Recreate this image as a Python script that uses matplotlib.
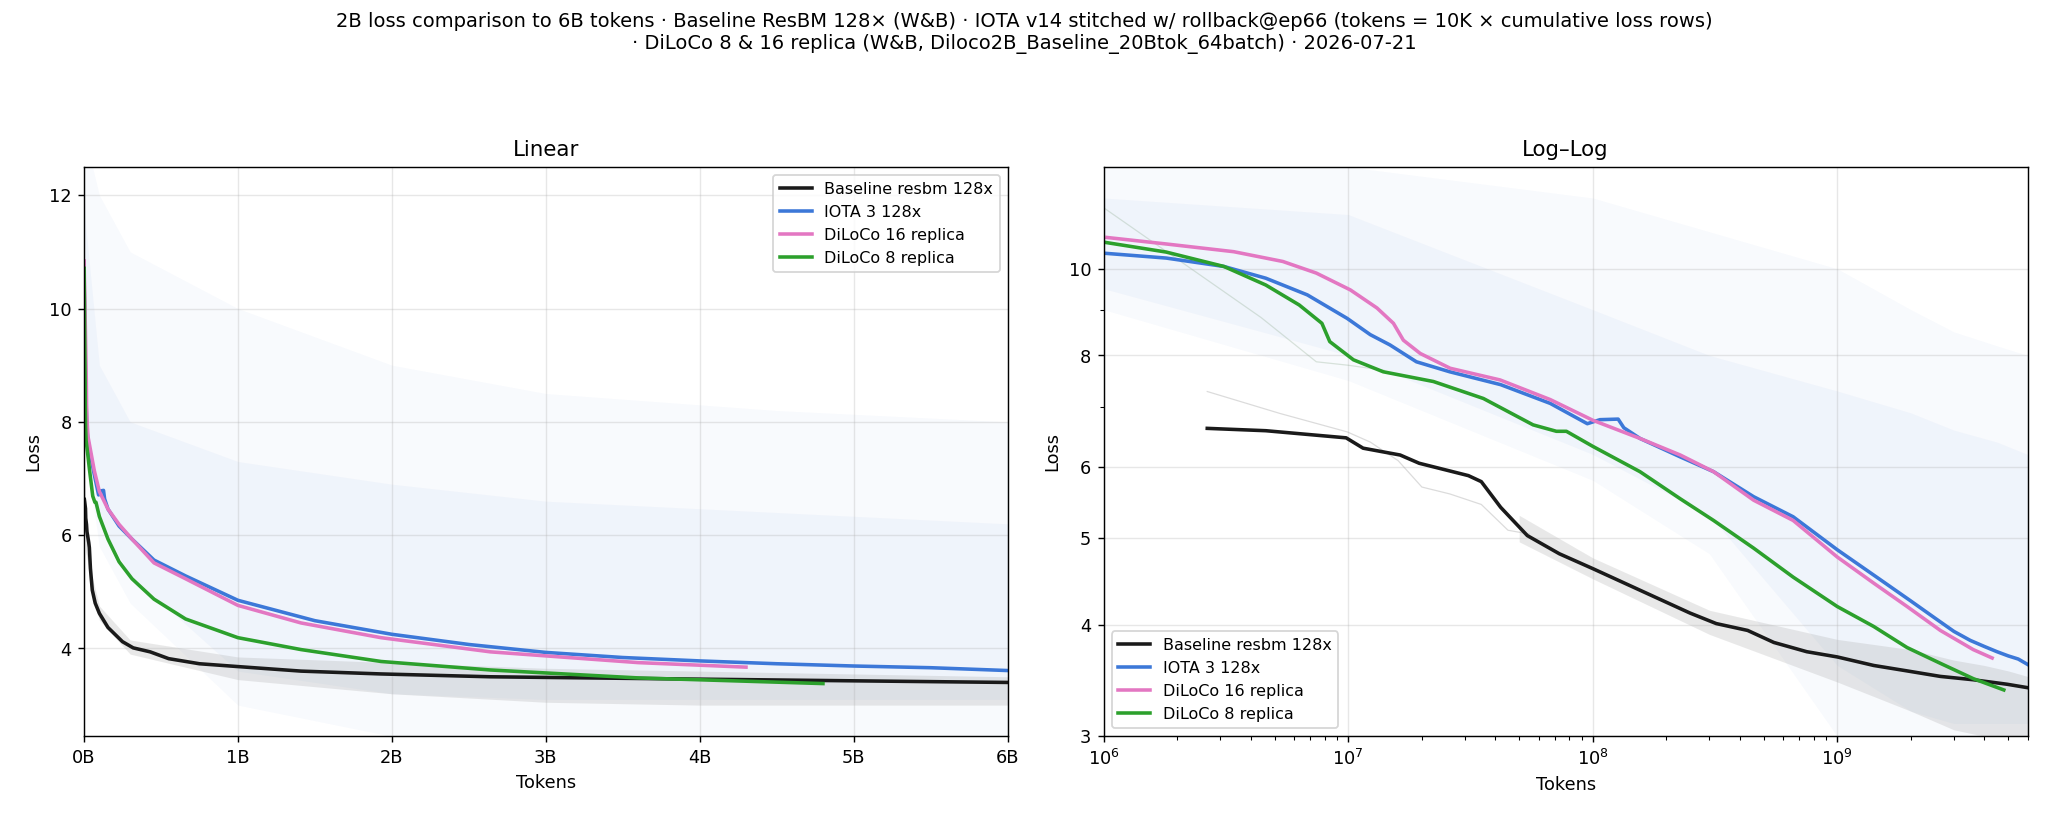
import numpy as np
import matplotlib
matplotlib.use("Agg")
import matplotlib.pyplot as plt
from matplotlib.ticker import FuncFormatter, NullFormatter

# ---- smoothed curves (tokens, loss) ----
base_tok = [2.65e6, 4.6e6, 9.8e6, 1.15e7, 1.63e7, 1.95e7, 3.1e7, 3.5e7, 4.2e7, 5.4e7, 7.3e7,
            1.0e8, 1.56e8, 2.5e8, 3.2e8, 4.3e8, 5.5e8, 7.5e8, 1.0e9, 1.41e9, 1.93e9,
            2.64e9, 3.6e9, 4.95e9, 6.0e9]
base_loss = [6.63, 6.59, 6.47, 6.30, 6.19, 6.06, 5.87, 5.78, 5.41, 5.03, 4.80,
             4.62, 4.37, 4.12, 4.01, 3.94, 3.82, 3.73, 3.68, 3.60, 3.55,
             3.50, 3.47, 3.43, 3.40]

iota_tok = [1.0e6, 1.8e6, 3.1e6, 4.6e6, 6.8e6, 9.9e6, 1.23e7, 1.48e7, 1.9e7, 2.6e7, 4.2e7,
            6.7e7, 9.5e7, 1.07e8, 1.27e8, 1.34e8, 1.56e8, 2.28e8, 3.12e8, 4.55e8, 6.6e8,
            1.0e9, 1.5e9, 2.0e9, 2.5e9, 3.0e9, 3.5e9, 4.0e9, 4.5e9, 5.0e9, 5.5e9, 6.0e9]
iota_loss = [10.41, 10.28, 10.06, 9.76, 9.35, 8.80, 8.44, 8.22, 7.87, 7.67, 7.42,
             7.07, 6.71, 6.78, 6.79, 6.64, 6.46, 6.16, 5.93, 5.56, 5.28,
             4.85, 4.49, 4.25, 4.07, 3.93, 3.84, 3.78, 3.73, 3.69, 3.66, 3.61]

d16_tok = [1.03e6, 1.8e6, 3.4e6, 5.4e6, 7.4e6, 1.02e7, 1.31e7, 1.53e7, 1.68e7, 1.97e7, 2.61e7,
           4.18e7, 6.7e7, 1.0e8, 1.56e8, 2.28e8, 3.12e8, 4.55e8, 6.6e8, 1.0e9, 1.41e9,
           1.93e9, 2.64e9, 3.6e9, 4.3e9]
d16_loss = [10.84, 10.66, 10.45, 10.19, 9.89, 9.47, 9.04, 8.69, 8.32, 8.04, 7.74,
            7.51, 7.14, 6.77, 6.46, 6.19, 5.93, 5.51, 5.23, 4.76, 4.45,
            4.19, 3.94, 3.75, 3.67]

d8_tok = [1.0e6, 1.8e6, 3.1e6, 4.6e6, 6.3e6, 7.8e6, 8.4e6, 1.05e7, 1.39e7, 2.23e7, 3.57e7,
          5.7e7, 7.1e7, 7.8e7, 1.0e8, 1.56e8, 2.28e8, 3.12e8, 4.55e8, 6.6e8, 1.0e9,
          1.41e9, 1.93e9, 2.64e9, 3.6e9, 4.8e9]
d8_loss = [10.71, 10.44, 10.06, 9.59, 9.11, 8.69, 8.29, 7.91, 7.67, 7.48, 7.16,
           6.69, 6.58, 6.58, 6.33, 5.93, 5.53, 5.23, 4.87, 4.52, 4.19,
           3.98, 3.77, 3.62, 3.48, 3.38]

# ---- raw (unsmoothed) IOTA spread: outer spikes and denser core ----
iota_raw_tok = [1.0e6, 1.0e7, 1.0e8, 3.0e8, 1.0e9, 2.0e9, 3.0e9, 4.5e9, 6.0e9]
iota_spike_lo = [9.0, 7.5, 5.8, 4.8, 3.0, 2.45, 2.45, 2.45, 2.45]
iota_spike_hi = [13.0, 13.0, 12.0, 11.0, 10.0, 9.0, 8.5, 8.2, 8.0]
iota_core_lo = [9.5, 8.0, 6.2, 5.3, 3.6, 3.2, 3.1, 3.1, 3.1]
iota_core_hi = [12.0, 11.5, 9.0, 8.0, 7.3, 6.9, 6.6, 6.4, 6.2]

# ---- raw baseline spread ----
base_raw_tok = [5.0e7, 1.0e8, 3.0e8, 1.0e9, 2.0e9, 3.0e9, 4.0e9, 5.0e9, 6.0e9]
base_raw_lo = [4.95, 4.5, 3.9, 3.45, 3.2, 3.05, 3.0, 3.0, 3.0]
base_raw_hi = [5.3, 4.75, 4.15, 3.85, 3.75, 3.65, 3.6, 3.55, 3.5]

base_raw_line_tok = [2.65e6, 5.25e6, 9.9e6, 1.23e7, 1.6e7, 2.0e7, 2.6e7, 3.5e7, 4.5e7, 5.5e7]
base_raw_line_loss = [7.29, 6.89, 6.57, 6.40, 6.10, 5.70, 5.60, 5.45, 5.10, 5.05]

d8_raw_line_tok = [1.0e6, 4.4e6, 7.4e6, 1.0e7, 1.4e7]
d8_raw_line_loss = [11.7, 8.82, 7.87, 7.80, 7.70]

series = [
    ("Baseline resbm 128x", base_tok, base_loss, "#1a1a1a"),
    ("IOTA 3 128x", iota_tok, iota_loss, "#3c78d8"),
    ("DiLoCo 16 replica", d16_tok, d16_loss, "#e377c2"),
    ("DiLoCo 8 replica", d8_tok, d8_loss, "#2ca02c"),
]

fig, axes = plt.subplots(1, 2, figsize=(16, 6.4), dpi=128)
fig.subplots_adjust(left=0.041, right=0.990, top=0.796, bottom=0.101, wspace=0.104)

for ax in axes:
    ax.fill_between(iota_raw_tok, iota_spike_lo, iota_spike_hi, color="#3c78d8", alpha=0.035, lw=0)
    ax.fill_between(iota_raw_tok, iota_core_lo, iota_core_hi, color="#3c78d8", alpha=0.045, lw=0)
    ax.fill_between(base_raw_tok, base_raw_lo, base_raw_hi, color="#9a9a9a", alpha=0.22, lw=0)
    ax.plot(base_raw_line_tok, base_raw_line_loss, color="#9a9a9a", lw=0.7, alpha=0.35)
    ax.plot(d8_raw_line_tok, d8_raw_line_loss, color="#8aa88a", lw=0.7, alpha=0.3)
    for label, tok, loss, col in series:
        ax.plot(tok, loss, color=col, lw=2.0, label=label)
    ax.grid(True, alpha=0.3)
    ax.set_xlabel("Tokens")
    ax.set_ylabel("Loss")

ax = axes[0]
ax.set_title("Linear", fontsize=12)
ax.set_xlim(0, 6e9)
ax.set_ylim(2.45, 12.5)
ax.xaxis.set_major_formatter(FuncFormatter(lambda v, p: "%dB" % round(v / 1e9)))
ax.legend(loc="upper right", fontsize=9)

ax = axes[1]
ax.set_title("Log\u2013Log", fontsize=12)
ax.set_xscale("log")
ax.set_yscale("log")
ax.set_xlim(1e6, 6e9)
ax.set_ylim(3, 13)
ax.set_yticks([3, 4, 5, 6, 8, 10])
ax.set_yticklabels(["3", "4", "5", "6", "8", "10"])
ax.yaxis.set_minor_formatter(NullFormatter())
ax.legend(loc="lower left", fontsize=9)

fig.suptitle("2B loss comparison to 6B tokens \u00b7 Baseline ResBM 128\u00d7 (W&B) \u00b7 IOTA v14 stitched w/ rollback@ep66 "
             "(tokens = 10K \u00d7 cumulative loss rows)\n\u00b7 DiLoCo 8 & 16 replica (W&B, Diloco2B_Baseline_20Btok_64batch) \u00b7 2026-07-21",
             fontsize=11, y=0.985)

fig.savefig("out.png", dpi=128)
